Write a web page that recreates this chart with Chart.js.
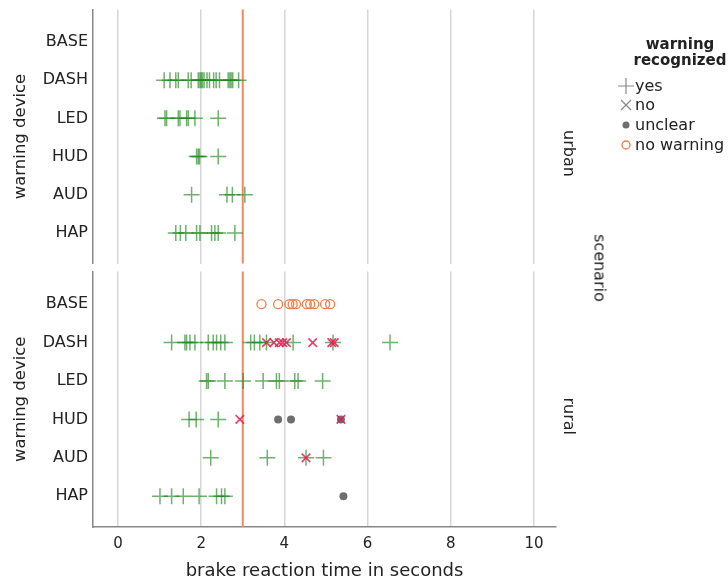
<!DOCTYPE html>
<html>
<head>
<meta charset="utf-8">
<script src="https://cdn.jsdelivr.net/npm/chart.js@4"></script>
<style>
  html,body{margin:0;padding:0;background:#fff;}
  body{width:728px;height:586px;position:relative;overflow:hidden;font-family:"DejaVu Sans",sans-serif;}
  .box{position:absolute;left:0;width:728px;}
  #scenario{position:absolute;left:600px;top:268px;transform:translate(-50%,-50%) rotate(90deg);font-size:16px;color:#222;white-space:nowrap;}
</style>
</head>
<body>
<div class="box" style="top:0;height:273px"><canvas id="urban" width="728" height="273"></canvas></div>
<div class="box" style="top:262px;height:324px"><canvas id="rural" width="728" height="324"></canvas></div>
<div id="scenario">scenario</div>
<script>
// categories and axis ticks
const devices = ['BASE','DASH','LED','HUD','AUD','HAP'];
const xTicks = [0, 2, 4, 6, 8, 10];
const thresholdSec = 3;

// brake reaction times (s), urban scenario
const urbanYes = {
  DASH: [1.11, 1.25, 1.39, 1.45, 1.69, 1.76, 1.93, 1.97, 2.0, 2.03, 2.07, 2.14, 2.2, 2.3, 2.36, 2.44, 2.65, 2.69, 2.72, 2.76, 2.9],
  LED:  [1.13, 1.17, 1.45, 1.49, 1.65, 1.69, 1.85, 2.41],
  HUD:  [1.89, 1.93, 1.96, 2.41],
  AUD:  [1.77, 2.62, 2.75, 3.05],
  HAP:  [1.39, 1.5, 1.63, 1.89, 1.97, 2.25, 2.33, 2.41, 2.81]
};

// rural scenario
const ruralYes = {
  DASH: [1.29, 1.61, 1.65, 1.73, 1.85, 2.17, 2.29, 2.37, 2.47, 2.57, 3.19, 3.28, 3.41, 3.57, 4.21, 5.17, 6.54],
  LED:  [2.13, 2.17, 2.57, 3.01, 3.49, 3.81, 3.88, 4.25, 4.33, 4.92],
  HUD:  [1.71, 1.88, 2.41],
  AUD:  [2.23, 3.59, 4.52, 4.94],
  HAP:  [1.01, 1.29, 1.57, 1.95, 2.37, 2.49, 2.57]
};
const ruralNo = {
  DASH: [3.57, 3.75, 3.88, 3.96, 4.05, 4.68, 5.14, 5.2],
  HUD:  [2.93, 5.36],
  AUD:  [4.52]
};
const ruralUnclear = {
  HUD: [3.85, 4.16, 5.36],
  HAP: [5.42]
};
const ruralNoWarning = {
  BASE: [3.45, 3.85, 4.12, 4.2, 4.28, 4.54, 4.62, 4.72, 4.98, 5.1]
};

const GREEN = 'rgba(30,135,30,0.65)';
const RED = 'rgba(226,30,80,0.85)';
const GREY = '#6e6e6e';
const ORANGE = '#f07a4a';
const FONT = '"DejaVu Sans", sans-serif';

function toPoints(obj){
  const pts = [];
  Object.keys(obj).forEach(d=>obj[d].forEach(v=>pts.push({x:v, y:devices.indexOf(d)})));
  return pts;
}

function sets(yes, no, unclear, noWarn){
  // first dataset is drawn on top
  return [
    {label:'no', data:toPoints(no), pointStyle:'crossRot', radius:6, borderColor:RED, borderWidth:1.6, backgroundColor:RED},
    {label:'yes', data:toPoints(yes), pointStyle:'cross', radius:8, borderColor:GREEN, borderWidth:1.5, backgroundColor:GREEN},
    {label:'unclear', data:toPoints(unclear), pointStyle:'circle', radius:4, borderColor:GREY, borderWidth:0, backgroundColor:GREY},
    {label:'no warning', data:toPoints(noWarn), pointStyle:'circle', radius:4.5, borderColor:ORANGE, borderWidth:1.3, backgroundColor:'rgba(0,0,0,0)'}
  ];
}

// threshold line + strip label + legend
function overlay(strip, withLegend){
  return {
    id:'overlay',
    beforeDatasetsDraw(chart){
      const {ctx, chartArea:a, scales:{x}} = chart;
      const px = x.getPixelForValue(thresholdSec);
      ctx.save();
      ctx.strokeStyle = '#f5875e'; ctx.lineWidth = 2;
      ctx.beginPath(); ctx.moveTo(px, a.top); ctx.lineTo(px, a.bottom); ctx.stroke();
      ctx.restore();
    },
    afterDraw(chart){
      const {ctx, chartArea:a} = chart;
      ctx.save();
      ctx.fillStyle = '#222';
      ctx.font = '16px ' + FONT;
      ctx.textAlign = 'center'; ctx.textBaseline = 'middle';
      ctx.translate(568, (a.top + a.bottom)/2 + 17);
      ctx.rotate(Math.PI/2);
      ctx.fillText(strip, 0, 0);
      ctx.restore();
      if(!withLegend) return;
      ctx.save();
      ctx.fillStyle = '#222';
      ctx.textAlign = 'center'; ctx.textBaseline = 'middle';
      ctx.font = 'bold 15px ' + FONT;
      ctx.fillText('warning', 680, 45);
      ctx.fillText('recognized', 680, 61);
      ctx.font = '16px ' + FONT;
      ctx.textAlign = 'left';
      const items = ['yes','no','unclear','no warning'];
      const ys = [86, 105, 125, 145];
      const sx = 626;
      items.forEach((t,i)=>{
        const y = ys[i];
        ctx.fillStyle = '#222';
        ctx.fillText(t, 635, y + 1);
        ctx.strokeStyle = '#888'; ctx.lineWidth = 1.2;
        ctx.beginPath();
        if(i===0){ ctx.moveTo(sx-8,y); ctx.lineTo(sx+8,y); ctx.moveTo(sx,y-8); ctx.lineTo(sx,y+8); ctx.stroke(); }
        else if(i===1){ ctx.moveTo(sx-5,y-5); ctx.lineTo(sx+5,y+5); ctx.moveTo(sx+5,y-5); ctx.lineTo(sx-5,y+5); ctx.stroke(); }
        else if(i===2){ ctx.fillStyle = GREY; ctx.arc(sx,y,3.5,0,Math.PI*2); ctx.fill(); }
        else { ctx.strokeStyle = ORANGE; ctx.lineWidth = 1.3; ctx.arc(sx,y,4,0,Math.PI*2); ctx.stroke(); }
      });
      ctx.restore();
    }
  };
}

function makeChart(id, datasets, strip, isBottom){
  return new Chart(document.getElementById(id), {
    type:'scatter',
    data:{datasets},
    options:{
      responsive:false, animation:false, events:[],
      layout:{padding:{left:0, right:172, top:isBottom ? 4 : 8, bottom:0}},
      plugins:{legend:{display:false}, tooltip:{enabled:false}},
      scales:{
        x:{
          type:'linear', min:-0.6, max:10.53,
          afterBuildTicks(s){ s.ticks = xTicks.map(v=>({value:v})); },
          afterFit(s){ s.height = isBottom ? 59 : 0; s.paddingLeft = 0; s.paddingRight = 0; },
          grid:{color:'#d6d6d6', lineWidth:1.5, drawTicks:false},
          border:{display:isBottom, color:'#888', width:1.5},
          ticks:{display:isBottom, padding:8, color:'#222', font:{family:FONT, size:15}},
          title:{display:isBottom, text:'brake reaction time in seconds', color:'#222', padding:{top:5}, font:{family:FONT, size:18}}
        },
        y:{
          type:'linear', reverse:true, min:-0.85, max:5.8,
          afterBuildTicks(s){ s.ticks = devices.map((d,i)=>({value:i})); },
          afterFit(s){ s.width = 93; s.paddingTop = 0; s.paddingBottom = 0; },
          grid:{display:false, drawTicks:false},
          border:{display:true, color:'#888', width:1.5},
          ticks:{padding:5, color:'#222', font:{family:FONT, size:16}, callback:v=>devices[v]},
          title:{display:true, text:'warning device', color:'#222', padding:{top:11, bottom:4}, font:{family:FONT, size:16.5}}
        }
      }
    },
    plugins:[overlay(strip, !isBottom)]
  });
}

makeChart('urban', sets(urbanYes, {}, {}, {}), 'urban', false);
makeChart('rural', sets(ruralYes, ruralNo, ruralUnclear, ruralNoWarning), 'rural', true);
</script>
</body>
</html>
